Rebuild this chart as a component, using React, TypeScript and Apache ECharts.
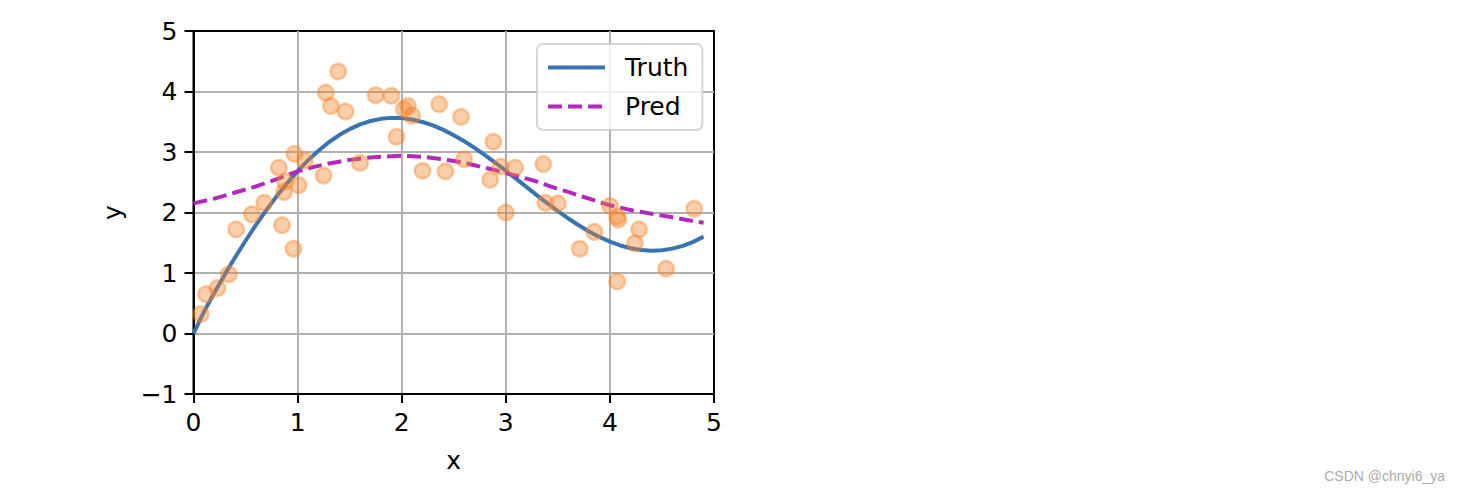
import React, { useEffect, useRef } from "react";
import * as echarts from "echarts";

const xTest = [
  0.0, 0.1, 0.2, 0.3, 0.4, 0.5, 0.6, 0.7, 0.8, 0.9,
  1.0, 1.1, 1.2, 1.3, 1.4, 1.5, 1.6, 1.7, 1.8, 1.9,
  2.0, 2.1, 2.2, 2.3, 2.4, 2.5, 2.6, 2.7, 2.8, 2.9,
  3.0, 3.1, 3.2, 3.3, 3.4, 3.5, 3.6, 3.7, 3.8, 3.9,
  4.0, 4.1, 4.2, 4.3, 4.4, 4.5, 4.6, 4.7, 4.8, 4.9,
];

const truthY = [
  0.0, 0.358, 0.673, 0.973, 1.259, 1.533, 1.794, 2.04, 2.271, 2.486,
  2.683, 2.862, 3.021, 3.161, 3.28, 3.378, 3.456, 3.512, 3.548, 3.564,
  3.56, 3.537, 3.496, 3.439, 3.366, 3.278, 3.179, 3.068, 2.949, 2.822,
  2.691, 2.555, 2.419, 2.284, 2.151, 2.023, 1.901, 1.789, 1.686, 1.595,
  1.518, 1.455, 1.409, 1.38, 1.368, 1.376, 1.403, 1.449, 1.515, 1.601,
];

const predY = [
  2.15, 2.19, 2.23, 2.28, 2.33, 2.38, 2.43, 2.49, 2.55, 2.62,
  2.68, 2.73, 2.77, 2.81, 2.84, 2.87, 2.89, 2.91, 2.92, 2.93,
  2.94, 2.93, 2.92, 2.9, 2.88, 2.85, 2.82, 2.78, 2.74, 2.7,
  2.65, 2.61, 2.56, 2.51, 2.45, 2.39, 2.34, 2.28, 2.23, 2.17,
  2.12, 2.08, 2.04, 2.01, 1.98, 1.95, 1.92, 1.89, 1.86, 1.83,
];

const trainX = [
  0.07, 0.12, 0.23, 0.34, 0.41, 0.56, 0.68, 0.82, 0.85, 0.87,
  0.88, 0.96, 0.97, 1.01, 1.07, 1.25, 1.27, 1.32, 1.39, 1.46,
  1.6, 1.75, 1.9, 1.95, 2.02, 2.06, 2.1, 2.2, 2.36, 2.42,
  2.57, 2.6, 2.85, 2.88, 2.95, 3.0, 3.09, 3.36, 3.38, 3.5,
  3.71, 3.85, 4.0, 4.07, 4.07, 4.08, 4.24, 4.28, 4.54, 4.81,
];

const trainY = [
  0.32, 0.65, 0.75, 0.98, 1.72, 1.97, 2.16, 2.74, 1.79, 2.34,
  2.51, 1.4, 2.97, 2.45, 2.86, 2.61, 3.98, 3.76, 4.33, 3.67,
  2.82, 3.94, 3.93, 3.25, 3.71, 3.76, 3.6, 2.69, 3.79, 2.68,
  3.58, 2.88, 2.54, 3.17, 2.76, 2.0, 2.74, 2.8, 2.16, 2.15,
  1.4, 1.68, 2.11, 0.86, 1.93, 1.88, 1.49, 1.72, 1.07, 2.06,
];

const xTicks = [0, 1, 2, 3, 4, 5];
const yTicks = [-1, 0, 1, 2, 3, 4, 5];

const FONT = "DejaVu Sans";
const BLUE = "#3a74b0";
const MAGENTA = "#b22abb";

export default function App() {
  const ref = useRef<HTMLDivElement>(null);

  useEffect(() => {
    if (!ref.current) return;
    const chart = echarts.init(ref.current, undefined, { renderer: "svg" });
    const fmt = (v: number) => String(v).replace("-", "\u2212");
    const axisCommon = {
      type: "value" as const,
      interval: 1,
      axisLine: { show: true, onZero: false, lineStyle: { color: "#000", width: 2 } },
      axisTick: { show: true, inside: false, length: 9, lineStyle: { color: "#000", width: 2 } },
      splitLine: {
        show: true,
        showMinLine: false,
        showMaxLine: false,
        lineStyle: { color: "#b0b0b0", width: 2 },
      },
      axisLabel: {
        fontFamily: FONT,
        fontSize: 25,
        color: "#000",
        margin: 16,
        formatter: fmt,
      },
      nameTextStyle: { fontFamily: FONT, fontSize: 25, color: "#000" },
      nameLocation: "middle" as const,
    };
    chart.setOption({
      animation: false,
      backgroundColor: "#fff",
      grid: {
        left: 193.5,
        right: 746,
        top: 31,
        bottom: 100,
        show: true,
        borderColor: "#000",
        borderWidth: 2,
        backgroundColor: "transparent",
        containLabel: false,
      },
      xAxis: {
        ...axisCommon,
        min: xTicks[0],
        max: xTicks[xTicks.length - 1],
        name: "x",
        nameGap: 54,
      },
      yAxis: {
        ...axisCommon,
        min: yTicks[0],
        max: yTicks[yTicks.length - 1],
        name: "y",
        nameGap: 69,
        nameRotate: 90,
      },
      legend: {
        data: [
          { name: "Truth", lineStyle: { color: BLUE, width: 4, type: "solid" } },
          { name: "Pred", lineStyle: { color: MAGENTA, width: 4, type: [14, 6] } },
        ],
        orient: "vertical",
        left: 537,
        top: 44,
        itemWidth: 57,
        itemHeight: 25,
        itemGap: 14,
        padding: [11, 14, 11, 9],
        backgroundColor: "rgba(255,255,255,0.8)",
        borderColor: "rgba(204,204,204,0.8)",
        borderWidth: 2,
        borderRadius: 6,
        itemStyle: { opacity: 0 },
        textStyle: { fontFamily: FONT, fontSize: 25, color: "#000", padding: [0, 0, 0, 15] },
      },
      graphic: [
        {
          type: "text",
          right: 15,
          top: 469,
          style: {
            text: "CSDN @chnyi6_ya",
            fontFamily: "Liberation Sans",
            fontSize: 14,
            fill: "#aaaaaa",
          },
        },
      ],
      series: [
        {
          name: "Truth",
          type: "line",
          data: xTest.map((x, i) => [x, truthY[i]]),
          symbol: "none",
          smooth: false,
          lineStyle: { color: BLUE, width: 4 },
          itemStyle: { color: BLUE },
          z: 3,
        },
        {
          name: "Pred",
          type: "line",
          data: xTest.map((x, i) => [x, predY[i]]),
          symbol: "none",
          lineStyle: { color: MAGENTA, width: 4, type: [14, 6] },
          itemStyle: { color: MAGENTA },
          z: 3,
        },
        {
          name: "train",
          type: "scatter",
          data: trainX.map((x, i) => [x, trainY[i]]),
          symbol: "circle",
          symbolSize: 15.5,
          itemStyle: {
            color: "rgba(245,130,40,0.5)",
            borderColor: "rgba(245,130,40,0.5)",
            borderWidth: 2.5,
          },
          z: 4,
        },
      ],
    });
    return () => chart.dispose();
  }, []);

  return (
    <div
      ref={ref}
      style={{ position: "fixed", left: 0, top: 0, width: 1460, height: 494 }}
    />
  );
}
